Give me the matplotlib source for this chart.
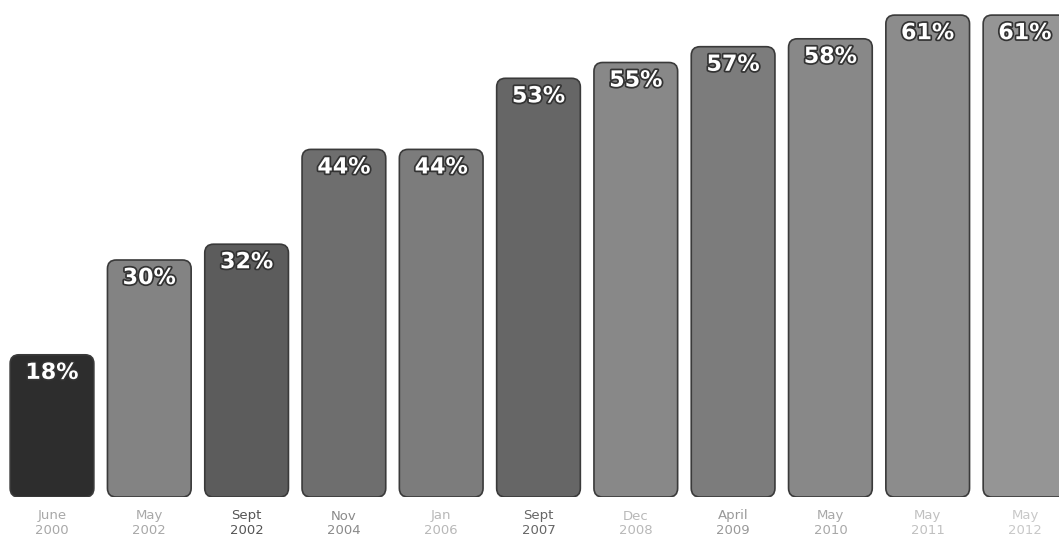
import matplotlib
matplotlib.use('Agg')
import matplotlib.pyplot as plt
import matplotlib.patheffects as pe
from matplotlib.patches import FancyBboxPatch

# data
dates = ['June\n2000', 'May\n2002', 'Sept\n2002', 'Nov\n2004', 'Jan\n2006', 'Sept\n2007',
         'Dec\n2008', 'April\n2009', 'May\n2010', 'May\n2011', 'May\n2012']
values = [18, 30, 32, 44, 44, 53, 55, 57, 58, 61, 61]
bar_colors = ['#2d2d2d', '#838383', '#5c5c5c', '#6e6e6e', '#7c7c7c', '#666666',
              '#888888', '#7c7c7c', '#888888', '#8c8c8c', '#959595']
label_colors = ['#a8a8a8', '#a8a8a8', '#555555', '#8a8a8a', '#b8b8b8', '#666666',
                '#b8b8b8', '#999999', '#a8a8a8', '#c0c0c0', '#c8c8c8']

fig = plt.figure(figsize=(10.59, 5.52), dpi=100)
ax = fig.add_axes([0, 55/552, 1, 497/552])

x = list(range(len(values)))
bars = ax.bar(x, values, width=0.86, color=bar_colors)

ax.set_xlim(-52/97.3, (1059-52)/97.3)
ax.set_ylim(0, 497/7.9)

# swap plain bars for rounded ones
for b, c in zip(bars, bar_colors):
    bx, by = b.get_x(), b.get_y()
    w, h = b.get_width(), b.get_height()
    b.remove()
    p = FancyBboxPatch((bx, by), w, h, boxstyle='round,pad=0,rounding_size=0.09',
                       mutation_aspect=12.3, facecolor=c, edgecolor='#3a3a3a',
                       linewidth=1.2)
    ax.add_patch(p)

for i, v in enumerate(values):
    ax.annotate('{}%'.format(v), xy=(i, v), xytext=(0, -13), textcoords='offset points',
                ha='center', va='center', fontsize=16, fontweight='heavy', color='white',
                path_effects=[pe.withStroke(linewidth=2.5, foreground='#333333')])

ax.set_xticks(x)
ax.set_xticklabels(dates, fontsize=9.5, linespacing=1.1)
for lab, c in zip(ax.get_xticklabels(), label_colors):
    lab.set_color(c)
ax.tick_params(axis='x', length=0, pad=9)
ax.set_yticks([])
for s in ax.spines.values():
    s.set_visible(False)

fig.savefig('out.png', dpi=100)
